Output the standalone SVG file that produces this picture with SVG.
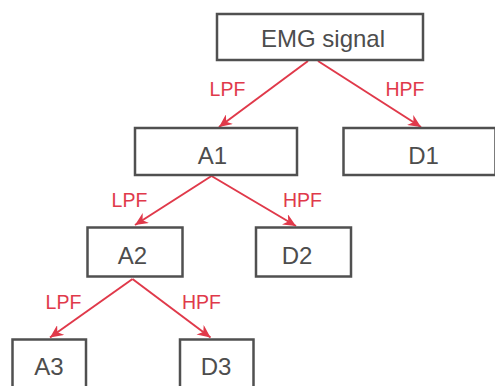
<svg xmlns="http://www.w3.org/2000/svg" width="495" height="386" viewBox="0 0 495 386">
<defs>
<style>
.box{fill:#fff;stroke:#505050;stroke-width:2.5}
.nt{font-family:"Liberation Sans",Arial,sans-serif;font-size:24px;fill:#4d4d4d;text-anchor:middle}
.lb{font-family:"Liberation Sans",Arial,sans-serif;font-size:19.5px;fill:#e0394a;text-anchor:middle}
.ed{stroke:#e0394a;stroke-width:2;fill:none;marker-end:url(#ah)}
</style>
<marker id="ah" markerUnits="userSpaceOnUse" markerWidth="14" markerHeight="12" viewBox="0 0 14 12" refX="13" refY="6" orient="auto">
<path d="M0,0 L13,6 L0,12 L4,6 z" fill="#e0394a"/>
</marker>
</defs>
<rect width="495" height="386" fill="#fff"/>
<g id="connectors">
<line class="ed" x1="308" y1="61" x2="219" y2="127"/>
<line class="ed" x1="318" y1="61" x2="421" y2="127"/>
<line class="ed" x1="211.5" y1="176" x2="135" y2="225"/>
<line class="ed" x1="211.5" y1="176" x2="296" y2="226"/>
<line class="ed" x1="132.5" y1="279" x2="50" y2="337.5"/>
<line class="ed" x1="132.5" y1="279" x2="210.5" y2="337.5"/>
</g>
<g id="labels">
<text class="lb" x="227.5" y="96">LPF</text>
<text class="lb" x="405" y="96">HPF</text>
<text class="lb" x="129.5" y="206.5">LPF</text>
<text class="lb" x="302.5" y="206.5">HPF</text>
<text class="lb" x="63.5" y="308.5">LPF</text>
<text class="lb" x="201.5" y="308.5">HPF</text>
</g>
<g id="emg"><rect class="box" x="217" y="14" width="206" height="46"/><text class="nt" x="323" y="46.5">EMG signal</text></g>
<g id="a1"><rect class="box" x="135" y="128" width="162" height="47"/><text class="nt" x="212.5" y="163.5">A1</text></g>
<g id="d1"><rect class="box" x="343.5" y="128" width="152" height="47"/><text class="nt" x="423.5" y="163.5">D1</text></g>
<g id="a2"><rect class="box" x="87.5" y="227.5" width="95" height="49"/><text class="nt" x="132.5" y="263.5">A2</text></g>
<g id="d2"><rect class="box" x="256" y="227.5" width="95" height="49"/><text class="nt" x="297" y="263.5">D2</text></g>
<g id="a3"><rect class="box" x="12.5" y="339.5" width="73.5" height="60"/><text class="nt" x="49" y="375">A3</text></g>
<g id="d3"><rect class="box" x="180" y="339.5" width="73.5" height="60"/><text class="nt" x="216" y="375">D3</text></g>
</svg>
